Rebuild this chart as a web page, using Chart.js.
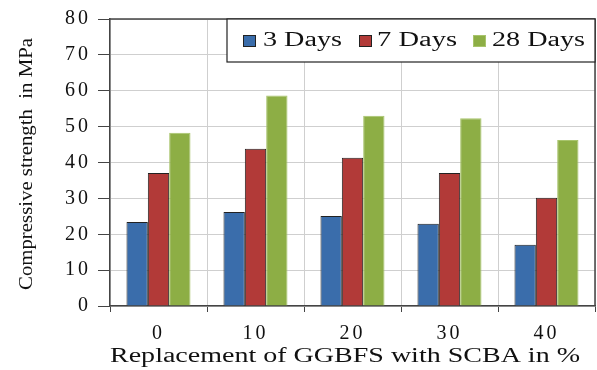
<!DOCTYPE html>
<html>
<head>
<meta charset="utf-8">
<script src="https://cdn.jsdelivr.net/npm/chart.js@4"></script>
<style>
  html, body { margin: 0; padding: 0; background: #fff; }
  #wrap { width: 597px; height: 370px; }
</style>
</head>
<body>
<div id="wrap"><canvas id="chart" width="597" height="370"></canvas></div>
<script>
const labels = ['0', '10', '20', '30', '40'];
const days3 = [23.4, 26.2, 25.1, 22.9, 17.1];
const days7 = [37.1, 43.8, 41.3, 37.1, 30.2];
const days28 = [48.3, 58.7, 53.0, 52.3, 46.3];
const yTicks = [0, 10, 20, 30, 40, 50, 60, 70, 80];

const serif = '"Liberation Serif", "Times New Roman", serif';

// draws text squeezed/stretched to a given width
function stretchText(ctx, text, x, y, width, size, rotate) {
    ctx.save();
    ctx.font = size + 'px ' + serif;
    ctx.fillStyle = '#111';
    ctx.textAlign = 'center';
    ctx.textBaseline = 'middle';
    const w = ctx.measureText(text).width;
    ctx.translate(x, y);
    if (rotate) ctx.rotate(-Math.PI / 2);
    ctx.scale(width / w, 1);
    ctx.fillText(text, 0, 0);
    ctx.restore();
}

const framePlugin = {
    id: 'frame',
    beforeDraw(chart) {
        chart.ctx.letterSpacing = '3px';
    },
    afterDraw(chart) {
        const ctx = chart.ctx;
        const a = chart.chartArea;
        ctx.save();
        ctx.letterSpacing = '0px';
        ctx.strokeStyle = '#444';
        ctx.lineWidth = 1.5;
        ctx.beginPath();
        ctx.moveTo(a.left, a.top);
        ctx.lineTo(a.right, a.top);
        ctx.lineTo(a.right, a.bottom);
        ctx.stroke();

        // legend box
        const lx = 227, ly = a.top, lw = a.right - 227, lh = 43;
        ctx.fillStyle = '#fff';
        ctx.fillRect(lx, ly, lw, lh);
        ctx.strokeStyle = '#222';
        ctx.lineWidth = 1.2;
        ctx.strokeRect(lx, ly, lw, lh);
        const items = [
            { sx: 243, tx: 263, tw: 79 },
            { sx: 359, tx: 377, tw: 80 },
            { sx: 473, tx: 492, tw: 93 }
        ];
        chart.data.datasets.forEach((ds, i) => {
            const it = items[i];
            ctx.fillStyle = ds.backgroundColor;
            ctx.fillRect(it.sx, ly + 16, 13, 12);
            ctx.strokeStyle = ds.borderColor;
            ctx.lineWidth = 1;
            ctx.strokeRect(it.sx + 0.5, ly + 16.5, 12, 11);
            stretchText(ctx, ds.label, it.tx + it.tw / 2, ly + 22, it.tw, 20, false);
        });

        stretchText(ctx, 'Compressive strength  in MPa', 27, 164, 252, 19, true);
        stretchText(ctx, 'Replacement of GGBFS with SCBA in %', 345, 357, 470, 20, false);
        ctx.restore();
    }
};

new Chart(document.getElementById('chart'), {
    type: 'bar',
    data: {
        labels: labels,
        datasets: [
            {
                label: '3 Days',
                backgroundColor: '#3A6DAB',
                borderColor: '#222',
                borderWidth: 1,
                data: days3
            },
            {
                label: '7 Days',
                backgroundColor: '#B23A38',
                borderColor: '#222',
                borderWidth: 1,
                data: days7
            },
            {
                label: '28 Days',
                backgroundColor: '#8DAE45',
                borderColor: '#A8C46C',
                borderWidth: 1,
                data: days28
            }
        ]
    },
    options: {
        responsive: false,
        animation: false,
        layout: { padding: { top: 18, right: 2, left: 0, bottom: 0 } },
        plugins: {
            legend: { display: false },
            title: { display: false },
            tooltip: { enabled: false }
        },
        datasets: {
            bar: { categoryPercentage: 0.66, barPercentage: 1 }
        },
        scales: {
            x: {
                afterFit: s => { s.height = 64; },
                grid: {
                    offset: true,
                    color: '#cfcfcf',
                    borderDash: [4, 3],
                    tickColor: '#444',
                    tickLength: 6,
                    tickBorderDash: []
                },
                border: { color: '#444', width: 1.5 },
                ticks: {
                    color: '#111',
                    padding: 10,
                    font: { family: serif, size: 20 }
                }
            },
            y: {
                min: 0,
                max: 80,
                afterFit: s => { s.width = 110; },
                afterBuildTicks: s => { s.ticks = yTicks.map(v => ({ value: v })); },
                grid: {
                    color: '#cfcfcf',
                    borderDash: [4, 3],
                    tickColor: '#444',
                    tickLength: 12,
                    tickBorderDash: []
                },
                border: { color: '#444', width: 1.5 },
                ticks: {
                    color: '#111',
                    padding: 7,
                    font: { family: serif, size: 20 }
                }
            }
        }
    },
    plugins: [framePlugin]
});
</script>
</body>
</html>
